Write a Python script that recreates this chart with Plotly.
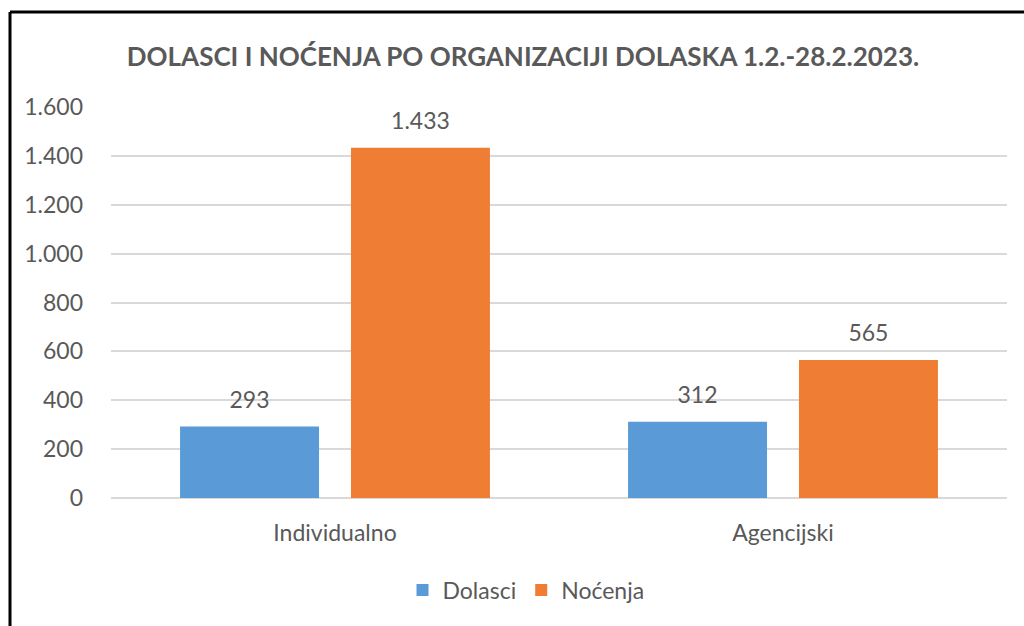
import plotly.graph_objects as go

categories = ["Individualno", "Agencijski"]
dolasci = [293, 312]
nocenja = [1433, 565]
series_names = ["Dolasci", "Noćenja"]
title_text = "DOLASCI I NOĆENJA PO ORGANIZACIJI DOLASKA 1.2.-28.2.2023."
tick_vals = [0, 200, 400, 600, 800, 1000, 1200, 1400, 1600]

FONT = "Lato"
GREY = "#595959"
BARGAP = 0.237

fig = go.Figure()
series = [(series_names[0], dolasci, "#5A9AD6"), (series_names[1], nocenja, "#EF7D33")]
for name, vals, col in series:
    fig.add_trace(go.Bar(
        x=categories, y=vals, name=name,
        marker=dict(color=col, line=dict(width=0)),
        hoverinfo="x+y+name",
    ))
# value labels above the bars
for name, vals, col in series:
    fig.add_trace(go.Scatter(
        x=categories, y=vals, mode="markers+text", showlegend=False,
        text=vals, texttemplate="%{y:,.0f}", textposition="top center",
        textfont=dict(family=FONT, size=23, color=GREY),
        marker=dict(size=19, color="rgba(0,0,0,0)"),
        cliponaxis=False, hoverinfo="skip",
    ))

L, R, T, B = 111, 17, 107, 128
W, H = 1024, 626
pw, ph = W - L - R, H - T - B

def px_x(px):
    return (px - L) / pw

def px_y(py):
    return (H - B - py) / ph

fig.update_layout(
    width=W, height=H,
    margin=dict(l=L, r=R, t=T, b=B),
    paper_bgcolor="white", plot_bgcolor="white",
    separators=",.",
    barmode="group", bargap=BARGAP, bargroupgap=0.187,
    scattermode="group", scattergap=BARGAP,
    title=dict(text=f"<b>{title_text}</b>", x=523 / W, xanchor="center",
               y=1 - 57 / H, yanchor="middle", yref="container",
               font=dict(family=FONT, size=26, color=GREY)),
    font=dict(family=FONT, size=23, color=GREY),
    xaxis=dict(showline=False, ticks="", showgrid=False,
               tickfont=dict(family=FONT, size=23, color=GREY), ticklabelstandoff=19),
    yaxis=dict(range=[0, 1600], tickvals=tick_vals, tickformat=",.0f",
               showgrid=True, gridcolor="#D9D9D9", gridwidth=1.5,
               zeroline=True, zerolinecolor="#D9D9D9", zerolinewidth=1.5,
               showline=False, ticks="",
               tickfont=dict(family=FONT, size=23, color=GREY), ticklabelstandoff=27),
    legend=dict(orientation="h", x=px_x(526), xanchor="center", y=px_y(590), yanchor="middle",
                font=dict(family=FONT, size=23, color=GREY), itemwidth=30,
                traceorder="normal"),
    shapes=[
        dict(type="line", xref="paper", yref="paper", x0=px_x(10), x1=px_x(1030),
             y0=px_y(12), y1=px_y(12), line=dict(color="black", width=3)),
        dict(type="line", xref="paper", yref="paper", x0=px_x(10), x1=px_x(10),
             y0=px_y(12), y1=px_y(640), line=dict(color="black", width=3)),
    ],
)

fig.write_html("out.html", config={"displayModeBar": False},
               post_script="document.body.style.margin='0';")
